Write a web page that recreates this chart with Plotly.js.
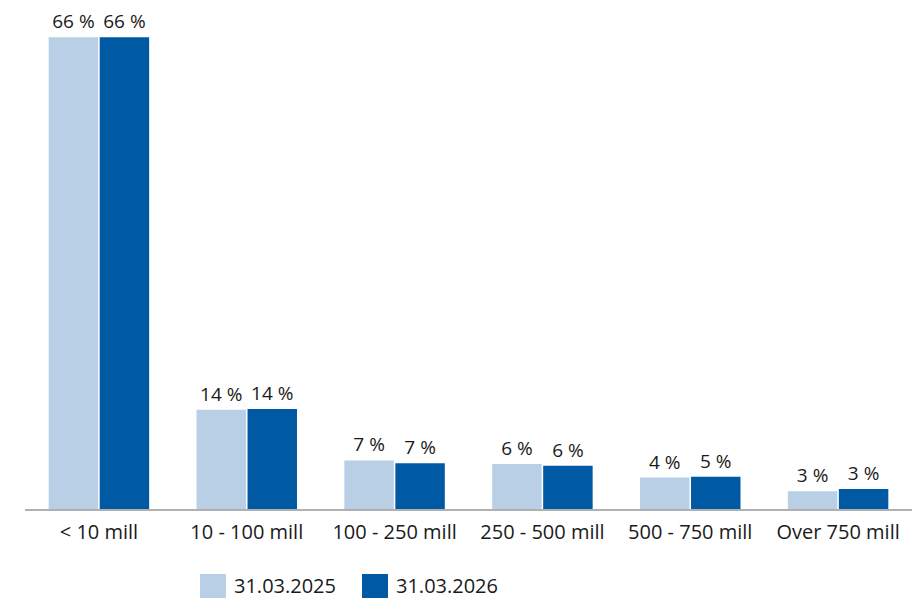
<!DOCTYPE html>
<html>
<head>
<meta charset="utf-8">
<script src="https://cdn.plot.ly/plotly-3.0.1.min.js"></script>
<style>html,body{margin:0;padding:0;background:#fff;}#chart{width:922px;height:599px;}</style>
</head>
<body>
<div id="chart"></div>
<script>
const categories = ["< 10 mill", "10 - 100 mill", "100 - 250 mill", "250 - 500 mill", "500 - 750 mill", "Over 750 mill"];
const seriesNames = ["31.03.2025", "31.03.2026"];
const values2025 = [66.0, 13.9, 6.8, 6.3, 4.4, 2.5];
const values2026 = [66.0, 14.0, 6.4, 6.05, 4.5, 2.8];
const labels2025 = ["66 %", "14 %", "7 %", "6 %", "4 %", "3 %"];
const labels2026 = ["66 %", "14 %", "7 %", "6 %", "5 %", "3 %"];

const colors = ["#b8cfe6", "#005aa3"];
const fam = "'Open Sans', 'Noto Sans', sans-serif";
const font = {family: fam, size: 20, color: "#1a1a1a"};
const labelFont = {family: fam, size: 19, color: "#1a1a1a"};

const traces = [
  {type: "bar", name: seriesNames[0], x: categories, y: values2025, text: labels2025,
   textposition: "outside", textfont: labelFont, cliponaxis: false, marker: {color: colors[0]},
   hoverinfo: "skip", showlegend: false},
  {type: "bar", name: seriesNames[1], x: categories, y: values2026, text: labels2026,
   textposition: "outside", textfont: labelFont, cliponaxis: false, marker: {color: colors[1]},
   hoverinfo: "skip", showlegend: false}
];

// custom legend (large square swatches)
const legendX = [200, 362];
const shapes = [], annotations = [];
seriesNames.forEach((n, i) => {
  shapes.push({type: "rect", xref: "paper", yref: "paper",
    x0: (legendX[i] - 25) / 887, x1: (legendX[i] - 25 + 26) / 887,
    y0: (509 - 598) / 499, y1: (509 - 574) / 499,
    fillcolor: colors[i], line: {width: 0}});
  annotations.push({xref: "paper", yref: "paper", x: (legendX[i] - 25 + 33) / 887,
    y: (509 - 585) / 499, xanchor: "left", yanchor: "middle", showarrow: false,
    borderpad: 0, text: n, font: font});
});

const layout = {
  width: 922, height: 599,
  margin: {l: 25, r: 10, t: 10, b: 90},
  paper_bgcolor: "#ffffff", plot_bgcolor: "#ffffff",
  barmode: "group", bargap: 0.31, bargroupgap: 0.03,
  font: font,
  xaxis: {showline: true, linecolor: "#b0b0b0", linewidth: 2, ticks: "", tickfont: font,
          ticklabelstandoff: 4,
          showgrid: false, zeroline: false, fixedrange: true},
  yaxis: {range: [0, 69.8], visible: false, showgrid: false, zeroline: false, fixedrange: true},
  showlegend: false,
  shapes: shapes,
  annotations: annotations
};

Plotly.newPlot("chart", traces, layout, {staticPlot: true, displayModeBar: false});
</script>
</body>
</html>
